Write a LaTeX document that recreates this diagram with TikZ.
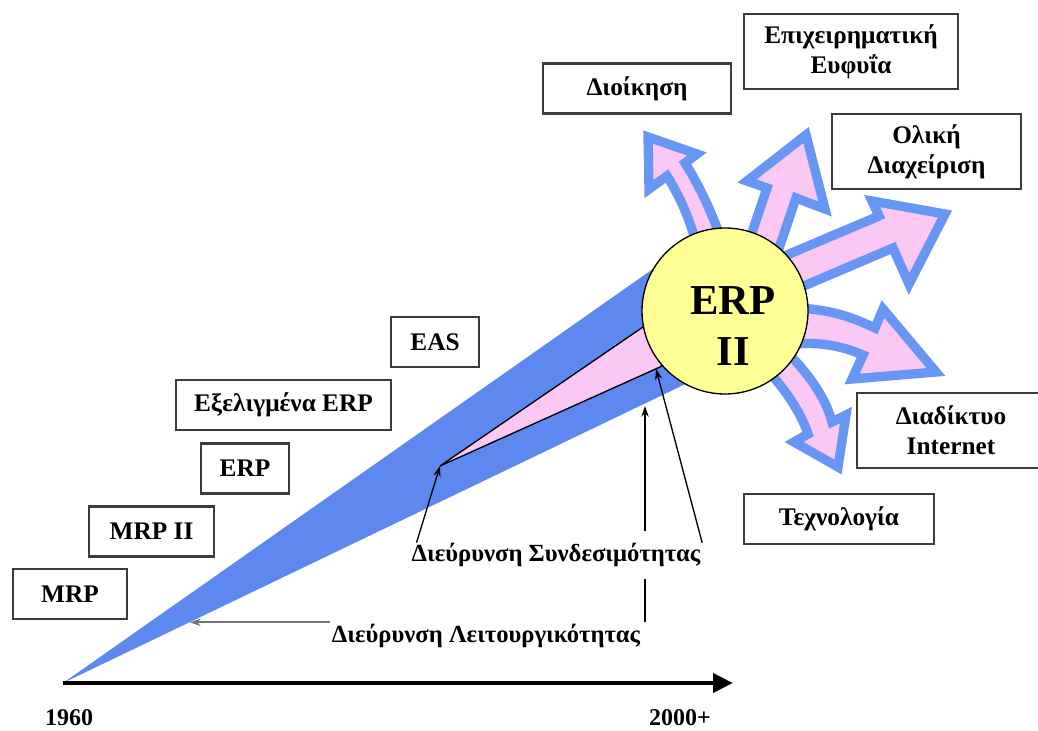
\documentclass[tikz,border=0pt]{standalone}
\usepackage{fontspec}
\setmainfont{Liberation Serif}
\usetikzlibrary{arrows.meta}

\definecolor{wedgeblue}{RGB}{92,136,240}
\definecolor{rimblue}{RGB}{104,150,245}
\definecolor{petal}{RGB}{250,200,242}
\definecolor{sunyellow}{RGB}{255,255,150}
\definecolor{boxline}{RGB}{60,60,60}

\tikzset{every picture/.style={line width=0.75pt}}
\tikzset{
  box/.style={draw=boxline, line width=1.8pt, fill=white, minimum height=37.5pt, align=center, inner sep=1pt, font=\fontsize{19}{22.5}\selectfont\bfseries},
  tallbox/.style={box, minimum height=56pt},
  bigarrow/.style={draw=rimblue, fill=petal, line width=7pt, line join=miter},
  captext/.style={inner sep=1pt, font=\fontsize{18.5}{21}\selectfont\bfseries},
  thinarrow/.style={-{Stealth[length=8pt,width=5.5pt]}, line width=1pt},
}

\begin{document}
\begin{tikzpicture}[x=0.75pt,y=0.75pt,yscale=-1,xscale=1]
\useasboundingbox (0,0) rectangle (1038,731);

% Points
\coordinate (t0) at (63,683);
\coordinate (t1) at (733,683);
\coordinate (ctr) at (725,311);
\coordinate (pk) at (440,466);
\coordinate (pl) at (656,369);
\coordinate (lw) at (645,406);
\coordinate (fw) at (190,621);

%Shape: Blue wedge
\fill [wedgeblue] (t0) -- (690,243) -- (ctr) -- (700,377) -- cycle;
%Shape: Pink wedge
\draw [fill=petal, line width=1pt] (pk) -- (643,327) -- (ctr) -- (660,367) -- cycle;

%Shape: Arrow up-left
\draw [bigarrow] (700,262) .. controls (694,228) and (682,200) .. (667,176) -- (649,189) -- (648,137) -- (697,154) -- (685,163) .. controls (702,190) and (716,222) .. (727,256) -- cycle;
%Shape: Arrow up
\draw [bigarrow] (741,265) -- (767,188) -- (747,181) -- (806,135) -- (825,209) -- (796,198) -- (770,275) -- cycle;
%Shape: Arrow right-up
\draw [bigarrow] (775,260) -- (879,216) -- (872,201) -- (945,214) -- (909,284) -- (893,248) -- (785,294) -- cycle;
%Shape: Arrow right-down
\draw [bigarrow] (790,308) .. controls (825,308) and (850,316) .. (875,328) -- (883,309) -- (936,372) -- (852,379) -- (863,355) .. controls (840,345) and (815,341) .. (788,345) -- cycle;
%Shape: Arrow down
\draw [bigarrow] (760,362) .. controls (782,385) and (800,410) .. (808,434) -- (794,442) -- (838,467) -- (846,415) -- (832,422) .. controls (825,395) and (805,370) .. (785,350) -- cycle;

%Shape: Circle
\node [circle, draw, line width=1pt, fill=sunyellow, minimum size=124.5pt, inner sep=0pt] (erp) at (ctr) {};
% Text Node
\node [align=center, inner sep=0pt, font=\fontsize{32}{38}\selectfont\bfseries] (erptext) at (733,326) {ERP\\II};

% Boxes
\node [box, minimum width=85.5pt] (mrp) at (70,594) {MRP};
\node [box, minimum width=93.75pt] (mrpii) at (151.5,531.5) {MRP II};
\node [box, minimum width=66pt] (erpbox) at (245,468.5) {ERP};
\node [box, minimum width=161pt] (exerp) at (283.5,405) {Εξελιγμένα ERP};
\node [box, minimum width=66pt] (eas) at (435,342) {EAS};
\node [box, minimum width=141pt] (dioik) at (637,88.5) {Διοίκηση};
\node [tallbox, minimum width=160.5pt] (bi) at (851,51.5) {Επιχειρηματική\\Ευφυΐα};
\node [tallbox, minimum width=142pt] (olik) at (926.5,151.5) {Ολική\\Διαχείριση};
\node [tallbox, minimum width=141pt] (net) at (951,430.5) {Διαδίκτυο\\Internet};
\node [box, minimum width=142.5pt] (tech) at (839,519) {Τεχνολογία};

% Time axis
\draw [line width=3.5pt, -{Triangle[length=15pt,width=14pt]}] (t0) -- (t1);
\node [captext, font=\fontsize{18}{20}\selectfont\bfseries] (y1960) at (69,718) {1960};
\node [captext, font=\fontsize{18}{20}\selectfont\bfseries] (y2000) at (680,718) {2000+};

% Text Node
\node [captext] (func) at (486,636) {Διεύρυνση Λειτουργικότητας};
\draw [thinarrow, line width=1.5pt, color=black!55] (func.north west) -- (func.north west -| fw);
\draw [thinarrow] (lw |- func.north) -- (lw);

% Text Node
\node [captext, fill=white, inner ysep=9pt] (conn) at (556,555) {Διεύρυνση Συνδεσιμότητας};
\draw [thinarrow] ([xshift=5pt,yshift=9pt]conn.north west) -- (pk);
\draw [thinarrow] ([yshift=9pt]conn.north east) -- (pl);

\end{tikzpicture}
\end{document}
